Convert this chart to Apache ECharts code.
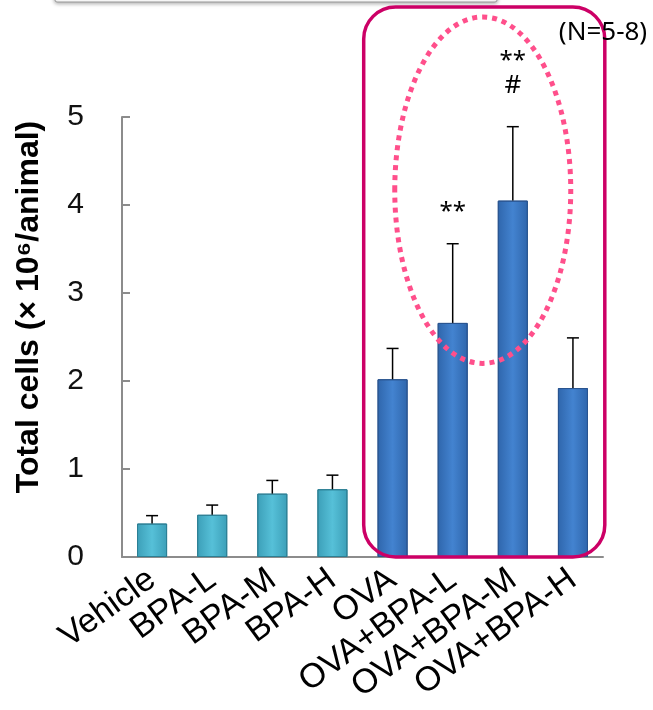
<!DOCTYPE html>
<html>
<head>
<meta charset="utf-8">
<script src="https://cdn.jsdelivr.net/npm/echarts@6/dist/echarts.min.js"></script>
<style>
html, body { margin: 0; padding: 0; background: #fff; }
#main { width: 653px; height: 710px; }
</style>
</head>
<body>
<div id="main"></div>
<script>
// group names and values
var categories = ["Vehicle", "BPA-L", "BPA-M", "BPA-H", "OVA", "OVA+BPA-L", "OVA+BPA-M", "OVA+BPA-H"];
var meanValues = [0.38, 0.48, 0.72, 0.77, 2.02, 2.66, 4.05, 1.92];
var errorTops = [0.47, 0.59, 0.87, 0.93, 2.37, 3.56, 4.89, 2.49];
var starMarks = ["", "", "", "", "", "**", "**", ""];
var hashMarks = ["", "", "", "", "", "", "#", ""];
var yTicks = [0, 1, 2, 3, 4, 5];

var myChart = echarts.init(document.getElementById("main"));

var cyanFill = new echarts.graphic.LinearGradient(0, 0, 1, 0, [
    {offset: 0, color: "#3c9fb8"},
    {offset: 0.5, color: "#56c0d8"},
    {offset: 1, color: "#3c9fb8"}
]);
var blueFill = new echarts.graphic.LinearGradient(0, 0, 1, 0, [
    {offset: 0, color: "#2f66ac"},
    {offset: 0.5, color: "#4383d0"},
    {offset: 1, color: "#2f66ac"}
]);

var barData = meanValues.map(function (v, i) {
    return {
        value: v,
        itemStyle: {
            color: i < 4 ? cyanFill : blueFill,
            borderColor: i < 4 ? "#2c7f94" : "#2a5590",
            borderWidth: 1
        }
    };
});

var errData = meanValues.map(function (v, i) {
    return [i, v, errorTops[i]];
});

function renderError(params, api) {
    var idx = api.value(0);
    var base = api.coord([idx, api.value(1)]);
    var top = api.coord([idx, api.value(2)]);
    var cap = 6;
    var style = {stroke: "#000", lineWidth: 1.5};
    var kids = [
        {type: "line", shape: {x1: base[0], y1: base[1], x2: top[0], y2: top[1]}, style: style},
        {type: "line", shape: {x1: top[0] - cap, y1: top[1], x2: top[0] + cap, y2: top[1]}, style: style}
    ];
    var stars = starMarks[idx], hash = hashMarks[idx];
    if (hash) {
        kids.push({type: "text", x: top[0], y: top[1] - 41,
            style: {text: hash, font: "26px 'Noto Sans'", fill: "#000", align: "center", verticalAlign: "middle"}});
    }
    if (stars) {
        kids.push({type: "text", x: top[0], y: top[1] - (hash ? 66 : 32),
            style: {text: stars, font: "24px 'Noto Sans'", fill: "#000", align: "center", verticalAlign: "middle"}});
    }
    return {type: "group", children: kids};
}

option = {
    animation: false,
    grid: {left: 122, right: 50, top: 117, bottom: 153},
    xAxis: {
        type: "category",
        data: categories,
        axisLine: {lineStyle: {color: "#8c8c8c", width: 2}},
        axisTick: {inside: true, length: 8, lineStyle: {color: "#8c8c8c", width: 2}},
        axisLabel: {
            rotate: 36,
            margin: 19,
            interval: 0,
            color: "#000",
            fontSize: 34,
            fontFamily: "Liberation Sans"
        }
    },
    yAxis: {
        type: "value",
        min: yTicks[0],
        max: yTicks[yTicks.length - 1],
        interval: 1,
        splitLine: {show: false},
        axisLine: {show: true, lineStyle: {color: "#8c8c8c", width: 2}},
        axisTick: {show: true, inside: true, length: 8, lineStyle: {color: "#8c8c8c", width: 2}},
        axisLabel: {
            margin: 38,
            color: "#111",
            fontSize: 30,
            fontFamily: "Liberation Sans"
        }
    },
    series: [
        {
            type: "bar",
            data: barData,
            barWidth: "50%",
            z: 2
        },
        {
            type: "custom",
            data: errData,
            renderItem: renderError,
            z: 3
        }
    ]
};

myChart.setOption(option);

// highlight box, dotted ellipse and side notes placed from the axes
var p4 = myChart.convertToPixel({seriesIndex: 0}, [4, 0]);
var p5 = myChart.convertToPixel({seriesIndex: 0}, [5, 0]);
var p6 = myChart.convertToPixel({seriesIndex: 0}, [6, 0]);
var p7 = myChart.convertToPixel({seriesIndex: 0}, [7, 0]);
var catW = p5[0] - p4[0];
var boxLeft = p4[0] - catW * 0.48;
var boxRight = p7[0] + catW * 0.53;
var boxTop = 7;
var boxBottom = p4[1];
var ellCx = (p5[0] + p6[0]) / 2;
var ellTop = 17, ellBottom = myChart.convertToPixel({seriesIndex: 0}, [5, 2.2])[1];

myChart.setOption({
    graphic: [
        {
            type: "rect",
            shape: {x: 55, y: -20, width: 442, height: 22, r: 2},
            style: {fill: "#fff", stroke: "#9a9a9a", lineWidth: 1, shadowBlur: 4, shadowColor: "rgba(0,0,0,0.35)", shadowOffsetY: 1},
            z: 1
        },
        {
            type: "rect",
            shape: {x: boxLeft, y: boxTop, width: boxRight - boxLeft, height: boxBottom - boxTop, r: 32},
            style: {fill: "none", stroke: "#cc0066", lineWidth: 3.5},
            z: 10
        },
        {
            type: "ellipse",
            shape: {cx: ellCx, cy: (ellTop + ellBottom) / 2, rx: 88, ry: (ellBottom - ellTop) / 2},
            style: {fill: "none", stroke: "#ff4f8b", lineWidth: 5, lineDash: [5, 5]},
            z: 10
        },
        {
            type: "text",
            x: 603, y: 33,
            style: {text: "(N=5-8)", font: "26px 'Noto Sans'", fill: "#000", align: "center", verticalAlign: "middle"},
            z: 11
        },
        {
            type: "text",
            x: 29, y: 307,
            rotation: Math.PI / 2,
            style: {text: "Total cells (× 10⁶/animal)", font: "bold 32px 'Liberation Sans'", fill: "#000", align: "center", verticalAlign: "middle"},
            z: 11
        }
    ]
});
</script>
</body>
</html>
